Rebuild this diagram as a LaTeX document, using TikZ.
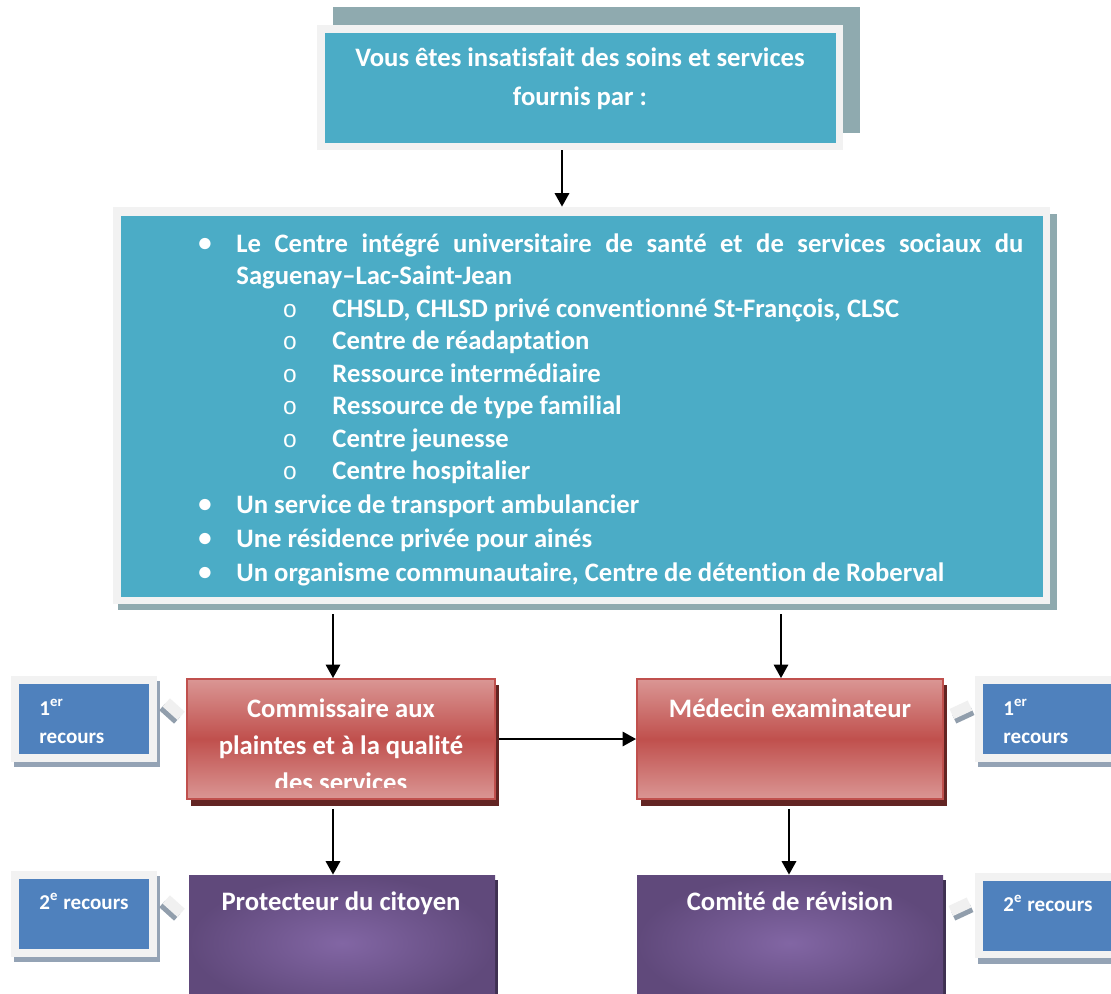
\documentclass[tikz,border=0pt]{standalone}
\usepackage{fontspec}
\setmainfont{Carlito}[Ligatures=NoCommon]
\newfontfamily\monofont{Liberation Mono}
\usetikzlibrary{arrows.meta, fit, calc}

\definecolor{tealbox}{HTML}{4BACC6}
\definecolor{framegray}{HTML}{F2F2F2}
\definecolor{topshade}{RGB}{143,170,175}
\definecolor{bluebox}{HTML}{4F81BD}
\definecolor{blueshade}{RGB}{148,163,181}
\definecolor{redmid}{RGB}{192,80,77}
\definecolor{redlight}{RGB}{218,150,148}
\definecolor{redshade}{RGB}{99,37,35}
\definecolor{purpout}{RGB}{96,73,123}
\definecolor{purpin}{RGB}{130,102,164}
\definecolor{purpshade}{RGB}{63,49,81}
\definecolor{stublight}{RGB}{240,240,240}
\definecolor{stubdark}{RGB}{145,158,172}

\tikzset{
  frame/.style={fill=framegray, inner sep=0pt},
  tealin/.style={fill=tealbox, inner sep=0pt},
  bluein/.style={fill=bluebox, inner sep=0pt},
  redbox/.style={draw=redmid, line width=0.9pt, inner sep=0pt,
    top color=redlight, bottom color=redlight, middle color=redmid},
  purpbox/.style={inner sep=0pt, inner color=purpin, outer color=purpout},
  txt/.style={inner sep=0pt, anchor=base west},
  ctxt/.style={inner sep=0pt, anchor=base},
  arr/.style={line width=0.7pt, -{Triangle[length=6pt, width=6.5pt]}}
}

\begin{document}
\begin{tikzpicture}[x=0.45pt, y=-0.45pt,
    every node/.style={font=\bfseries\fontsize{12}{14.6}\selectfont, text=white}]
  \clip (0,0) rectangle (1111,993);
  \fill[white] (0,0) rectangle (1111,993);

  % top box
  \fill[topshade] (333,7) rectangle (860,133);
  \node[frame, fit={(317,25) (843,150)}] (topframe) {};
  \node[tealin, fit={(325,33) (836,143)}] (top) {};
  \node[ctxt] (topa) at (580,66) {Vous êtes insatisfait des soins et services};
  \node[ctxt] (topb) at (580,105) {fournis par :};

  % list box
  \fill[topshade] (118,214) rectangle (1057,610);
  \node[frame, fit={(113,207) (1050,604)}] (listframe) {};
  \node[tealin, fit={(121,216) (1043,597)}] (list) {};
  \node (b1) at (205,245) {•};
  \node[txt] (l1) at (236,252) {\makebox[354.2pt][s]{Le Centre intégré universitaire de santé et de services sociaux du}};
  \node[txt] (l2) at (236,284) {Saguenay–Lac-Saint-Jean};
  \foreach \y/\t [count=\i] in {317/{CHSLD, CHLSD privé conventionné St-François, CLSC},
      349/Centre de réadaptation, 382/Ressource intermédiaire,
      414/Ressource de type familial, 447/Centre jeunesse, 479/Centre hospitalier}{
    \node[ctxt] (o\i) at (290,\y) {\mdseries\monofont\fontsize{11}{12}\selectfont o};
    \node[txt] (s\i) at (332,\y) {\t};
  }
  \node (b2) at (205,506) {•};
  \node[txt] (l3) at (236,513) {Un service de transport ambulancier};
  \node (b3) at (205,540) {•};
  \node[txt] (l4) at (236,547) {Une résidence privée pour ainés};
  \node (b4) at (205,574) {•};
  \node[txt] (l5) at (236,581) {Un organisme communautaire, Centre de détention de Roberval};

  % red boxes
  \fill[redshade] (191,685) rectangle (499,806);
  \node[redbox, fit={(187,679) (495,799)}] (cpq) {};
  \begin{scope}
    \clip (190,682) rectangle (492,787);
    \node[ctxt] (cpqa) at (341,717) {Commissaire aux};
    \node[ctxt] (cpqb) at (341,754) {plaintes et à la qualité};
    \node[ctxt] (cpqc) at (341,791) {des services};
  \end{scope}
  \fill[redshade] (641,685) rectangle (947,806);
  \node[redbox, fit={(637,679) (943,799)}] (med) {};
  \node[ctxt] (meda) at (790,717) {Médecin examinateur};

  % purple boxes
  \fill[purpshade] (192,880) rectangle (498,1011);
  \node[purpbox, fit={(189,875) (495,1011)}] (prot) {};
  \node[ctxt] (prota) at (341,910) {Protecteur du citoyen};
  \fill[purpshade] (640,880) rectangle (946,1011);
  \node[purpbox, fit={(637,875) (943,1011)}] (crev) {};
  \node[ctxt] (creva) at (790,910) {Comité de révision};

  % recours boxes
  \fill[blueshade] (14,681) rectangle (160,767);
  \node[frame, fit={(11,676) (157,762)}] (r1lf) {};
  \node[bluein, fit={(19,684) (149,754)}] (r1l) {};
  \node[txt, font=\bfseries\fontsize{9.5}{11}\selectfont] (r1la) at (39,715) {1\textsuperscript{er}};
  \node[txt, font=\bfseries\fontsize{9.5}{11}\selectfont] (r1lb) at (39,743) {recours};
  \fill[blueshade] (978,681) rectangle (1130,767);
  \node[frame, fit={(975,676) (1125,762)}] (r1rf) {};
  \node[bluein, fit={(983,684) (1120,754)}] (r1r) {};
  \node[txt, font=\bfseries\fontsize{9.5}{11}\selectfont] (r1ra) at (1003,715) {1\textsuperscript{er}};
  \node[txt, font=\bfseries\fontsize{9.5}{11}\selectfont] (r1rb) at (1003,743) {recours};
  \fill[blueshade] (14,876) rectangle (160,962);
  \node[frame, fit={(11,871) (157,957)}] (r2lf) {};
  \node[bluein, fit={(19,879) (149,949)}] (r2l) {};
  \node[txt, font=\bfseries\fontsize{9.5}{11}\selectfont] (r2la) at (39,909) {2\textsuperscript{e} recours};
  \fill[blueshade] (978,878) rectangle (1130,964);
  \node[frame, fit={(975,873) (1125,958)}] (r2rf) {};
  \node[bluein, fit={(983,881) (1120,951)}] (r2r) {};
  \node[txt, font=\bfseries\fontsize{9.5}{11}\selectfont] (r2ra) at (1003,911) {2\textsuperscript{e} recours};

  % little stubs between boxes
  \foreach \cx/\cy/\a in {172/711/-42, 172/908/-42, 962/712/25, 961/909/25}{
    \begin{scope}[shift={(\cx,\cy)}, rotate=\a]
      \fill[stubdark] (-10,-1) rectangle (10,8);
      \fill[stublight] (-10,-8) rectangle (10,3);
    \end{scope}
  }

  % arrows
  \coordinate (xa) at (562,0);
  \coordinate (xb) at (333,0);
  \coordinate (xc) at (781,0);
  \coordinate (xd) at (789,0);
  \draw[arr] (topframe.south -| xa) -- (listframe.north -| xa);
  \draw[arr, shorten <=4.5pt] (listframe.south -| xb) -- (cpq.north -| xb);
  \draw[arr, shorten <=4.5pt] (listframe.south -| xc) -- (med.north -| xc);
  \draw[arr, shorten <=4pt] (cpq.south -| xb) -- (prot.north -| xb);
  \draw[arr, shorten <=4pt] (med.south -| xd) -- (crev.north -| xd);
  \draw[arr, shorten <=1.5pt] (cpq.east) -- (med.west);
\end{tikzpicture}
\end{document}
